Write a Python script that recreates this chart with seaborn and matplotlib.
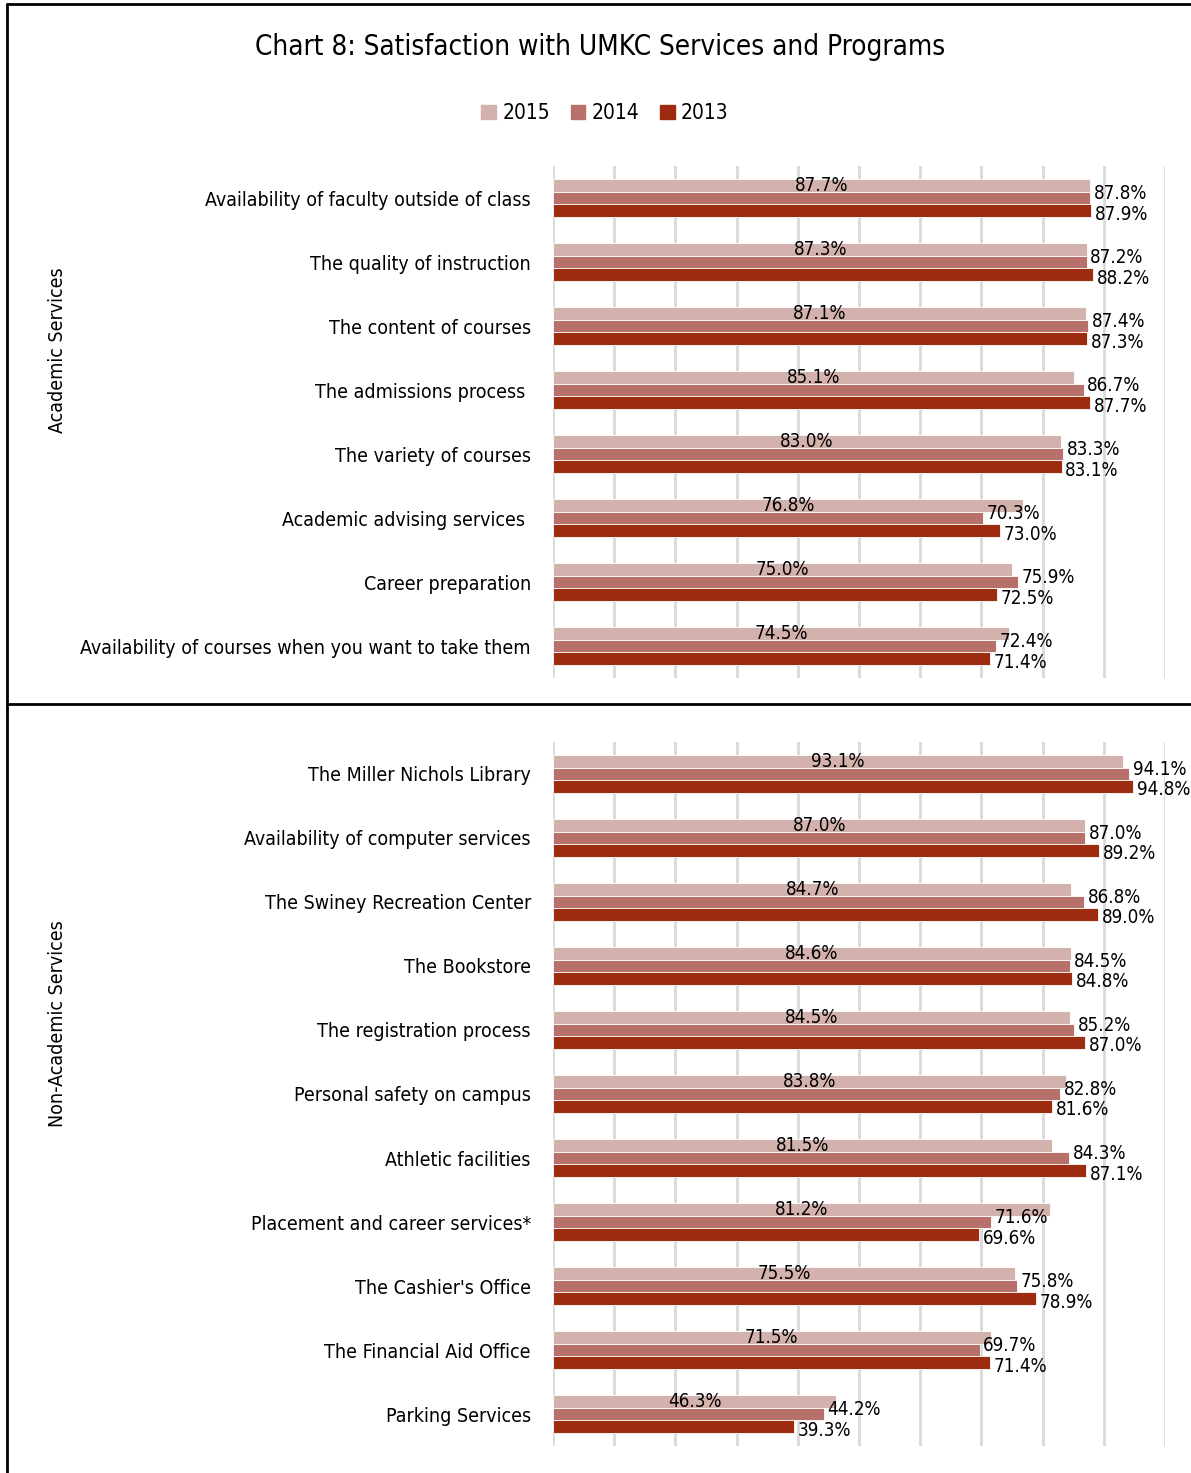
import pandas as pd
import matplotlib.pyplot as plt
import matplotlib.lines as mlines
import seaborn as sns

# data
years = ['2015', '2014', '2013']
colors = ['#D3B1AD', '#B8716A', '#9C2B10']

academic = ['Availability of faculty outside of class', 'The quality of instruction',
            'The content of courses', 'The admissions process ', 'The variety of courses',
            'Academic advising services ', 'Career preparation',
            'Availability of courses when you want to take them']
acad_2015 = [87.7, 87.3, 87.1, 85.1, 83.0, 76.8, 75.0, 74.5]
acad_2014 = [87.8, 87.2, 87.4, 86.7, 83.3, 70.3, 75.9, 72.4]
acad_2013 = [87.9, 88.2, 87.3, 87.7, 83.1, 73.0, 72.5, 71.4]

nonacademic = ['The Miller Nichols Library', 'Availability of computer services',
               'The Swiney Recreation Center', 'The Bookstore', 'The registration process',
               'Personal safety on campus', 'Athletic facilities',
               'Placement and career services*', "The Cashier's Office",
               'The Financial Aid Office', 'Parking Services']
non_2015 = [93.1, 87.0, 84.7, 84.6, 84.5, 83.8, 81.5, 81.2, 75.5, 71.5, 46.3]
non_2014 = [94.1, 87.0, 86.8, 84.5, 85.2, 82.8, 84.3, 71.6, 75.8, 69.7, 44.2]
non_2013 = [94.8, 89.2, 89.0, 84.8, 87.0, 81.6, 87.1, 69.6, 78.9, 71.4, 39.3]

sns.set_style('white')
plt.rcParams['font.family'] = ['DejaVu Sans']
plt.rcParams['font.stretch'] = 'condensed'
plt.rcParams['text.color'] = 'black'
plt.rcParams['ytick.color'] = 'black'


def make_df(cats, v15, v14, v13):
    rows = []
    for yr, vals in zip(years, [v15, v14, v13]):
        for c, v in zip(cats, vals):
            rows.append({'cat': c, 'year': yr, 'val': v})
    return pd.DataFrame(rows)


fig = plt.figure(figsize=(11.91, 14.73), dpi=100)
ax1 = fig.add_axes([0.4643, 0.5397, 0.5139, 0.3476])
ax2 = fig.add_axes([0.4643, 0.0183, 0.5139, 0.4780])

for ax, cats, v15, v14, v13 in [(ax1, academic, acad_2015, acad_2014, acad_2013),
                                (ax2, nonacademic, non_2015, non_2014, non_2013)]:
    df = make_df(cats, v15, v14, v13)
    sns.barplot(data=df, y='cat', x='val', hue='year', hue_order=years,
                palette=colors, saturation=1, orient='h', width=0.6, ax=ax,
                legend=False, edgecolor='white', linewidth=0.6)
    ax.set_xlim(0, 100)
    ax.set_xticks(range(0, 101, 10))
    ax.xaxis.grid(True, color='#D9D9D9', linewidth=2)
    ax.set_axisbelow(True)
    ax.set_xlabel('')
    ax.set_ylabel('')
    ax.set_xticklabels([])
    ax.tick_params(axis='both', length=0)
    ax.tick_params(axis='y', labelsize=14, pad=16)
    for s in ax.spines.values():
        s.set_visible(False)
    # 2015 label centred in its bar, 2014/2013 labels just past the bar end
    for i, c in enumerate(cats):
        ax.text(v15[i] / 2, i - 0.2, f'{v15[i]:.1f}%', ha='center', va='center',
                fontsize=13.5, clip_on=False)
        ax.text(v14[i] + 0.6, i - 0.07, f'{v14[i]:.1f}%', ha='left', va='center',
                fontsize=13.5, clip_on=False)
        ax.text(v13[i] + 0.6, i + 0.25, f'{v13[i]:.1f}%', ha='left', va='center',
                fontsize=13.5, clip_on=False)

fig.text(0.504, 0.968, 'Chart 8: Satisfaction with UMKC Services and Programs',
         ha='center', va='center', fontsize=20)
handles = [plt.Rectangle((0, 0), 1, 1, color=c) for c in colors]
fig.legend(handles, years, loc='center', bbox_to_anchor=(0.508, 0.923), ncol=3,
           frameon=False, fontsize=15, handlelength=0.7, handleheight=0.7,
           handletextpad=0.3, columnspacing=1.0)

fig.text(0.048, 0.762, 'Academic Services', rotation=90, ha='center', va='center', fontsize=14)
fig.text(0.048, 0.305, 'Non-Academic Services', rotation=90, ha='center', va='center', fontsize=14)

# frame lines
fig.add_artist(mlines.Line2D([0.006, 0.006], [0, 0.997], color='black', lw=2))
fig.add_artist(mlines.Line2D([0.006, 1], [0.997, 0.997], color='black', lw=2))
fig.add_artist(mlines.Line2D([0.006, 1], [0.522, 0.522], color='black', lw=2))

fig.savefig('out.png', dpi=100)
